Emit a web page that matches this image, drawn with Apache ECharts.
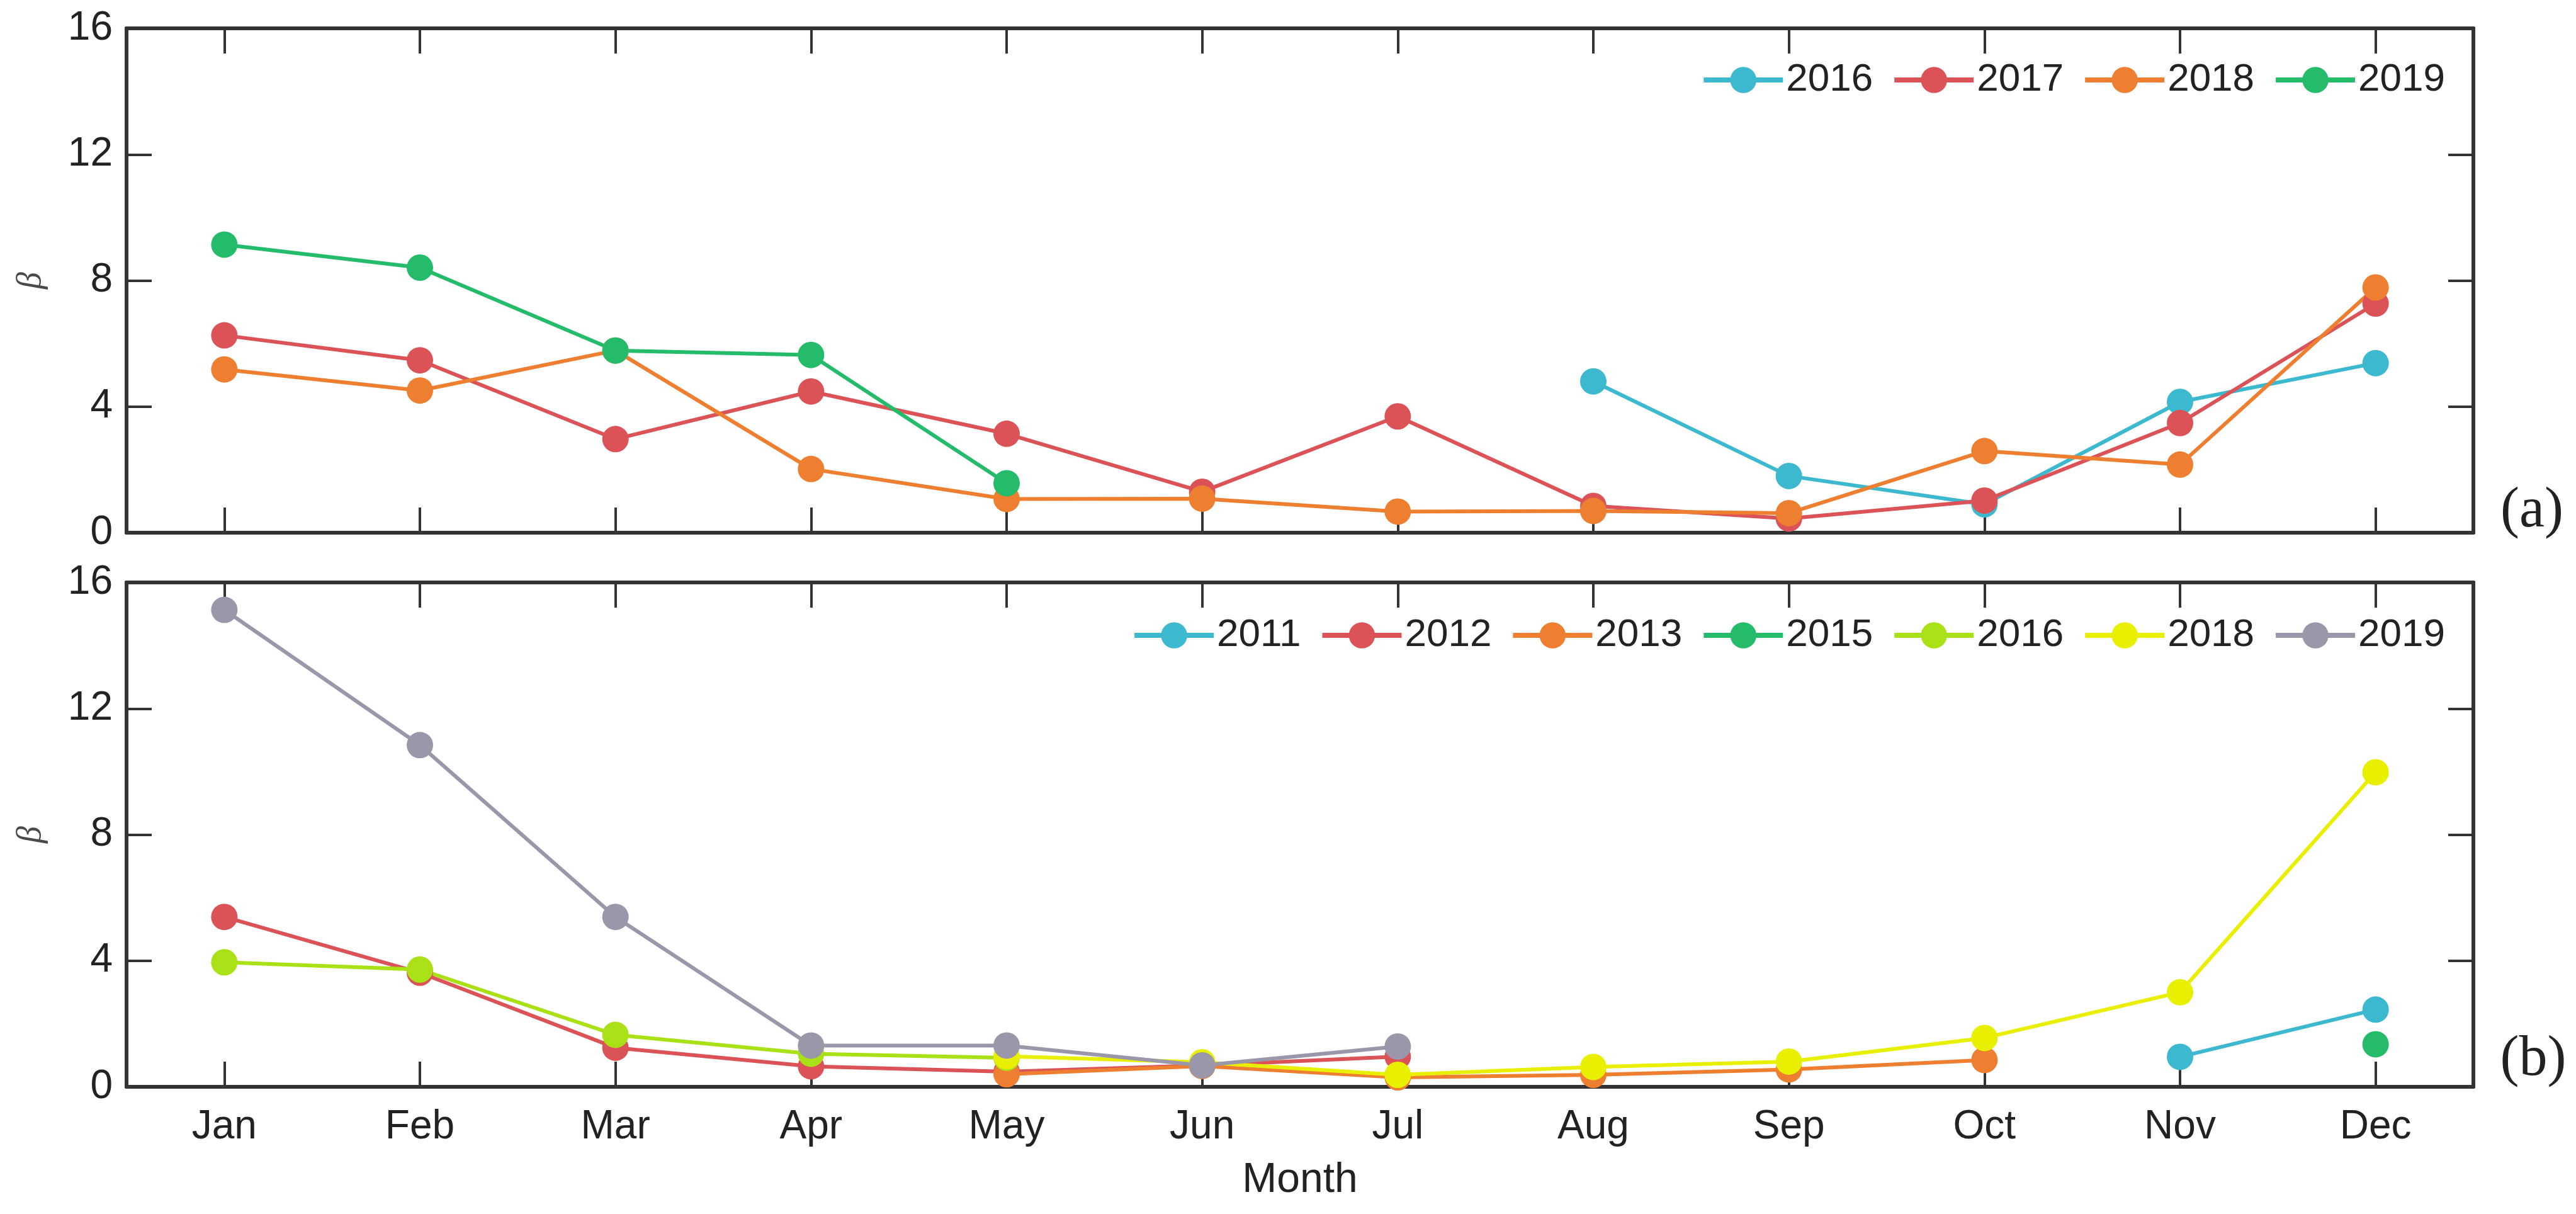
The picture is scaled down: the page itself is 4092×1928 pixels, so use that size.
<!DOCTYPE html>
<html>
<head>
<meta charset="utf-8">
<script src="https://cdn.jsdelivr.net/npm/echarts@6/dist/echarts.min.js"></script>
<style>
html,body{margin:0;padding:0;background:#fff;}
#chart{width:4092px;height:1928px;}
</style>
</head>
<body>
<div id="chart"></div>
<script>
// ---- data ----
const months = ['Jan','Feb','Mar','Apr','May','Jun','Jul','Aug','Sep','Oct','Nov','Dec'];
const yTicks = [0, 4, 8, 12, 16];

// panel (a)
const a2016 = [null, null, null, null, null, null, null, 4.80, 1.80, 0.90, 4.15, 5.38];
const a2017 = [6.26, 5.47, 2.97, 4.48, 3.14, 1.30, 3.69, 0.85, 0.45, 1.02, 3.48, 7.27];
const a2018 = [5.18, 4.51, 5.78, 2.02, 1.07, 1.08, 0.67, 0.69, 0.62, 2.59, 2.16, 7.78];
const a2019 = [9.14, 8.41, 5.78, 5.64, 1.57, null, null, null, null, null, null, null];

// panel (b)
const b2011 = [null, null, null, null, null, null, null, null, null, null, 0.95, 2.45];
const b2012 = [5.39, 3.62, 1.24, 0.65, 0.48, 0.68, 0.96, null, null, null, null, null];
const b2013 = [null, null, null, null, 0.40, 0.66, 0.30, 0.38, 0.55, 0.85, null, null];
const b2015 = [null, null, null, null, null, null, null, null, null, null, null, 1.35];
const b2016 = [3.95, 3.72, 1.65, 1.05, 0.92, null, null, null, null, null, null, null];
const b2018 = [null, null, null, null, 0.97, 0.78, 0.38, 0.63, 0.80, 1.55, 3.00, 9.98];
const b2019 = [15.13, 10.84, 5.39, 1.31, 1.31, 0.68, 1.28, null, null, null, null, null];

const C = {
  cyan: '#3cb9cf', red: '#db5356', orange: '#ee7f31', green: '#24bc6a',
  lime: '#a9e116', yellow: '#e8f000', gray: '#9a97ab'
};

const topSeries = [
  ['a:2016', a2016, C.cyan], ['a:2017', a2017, C.red],
  ['a:2018', a2018, C.orange], ['a:2019', a2019, C.green]
];
const botSeries = [
  ['b:2011', b2011, C.cyan], ['b:2012', b2012, C.red], ['b:2013', b2013, C.orange],
  ['b:2015', b2015, C.green], ['b:2016', b2016, C.lime], ['b:2018', b2018, C.yellow],
  ['b:2019', b2019, C.gray]
];

// ---- styles ----
const FONT = 'Liberation Sans';
const AXIS_COLOR = '#333';
const grids = [
  {left: 201, right: 163, top: 45, height: 801},
  {left: 201, right: 163, top: 925, height: 801}
];

function xAx(gridIndex, position, showLabels) {
  const ax = {
    type: 'category', gridIndex, position, data: months, boundaryGap: true,
    axisLine: {show: true, onZero: false, lineStyle: {color: AXIS_COLOR, width: 6}},
    axisTick: {show: true, inside: true, alignWithLabel: true, length: 40,
               lineStyle: {color: AXIS_COLOR, width: 4}},
    axisLabel: {show: showLabels, fontSize: 64, fontFamily: FONT, color: '#222', margin: 32},
    splitLine: {show: false}
  };
  if (showLabels) {
    ax.name = 'Month';
    ax.nameLocation = 'middle';
    ax.nameGap = 116;
    ax.nameTextStyle = {fontSize: 66, fontFamily: FONT, color: '#222'};
  }
  return ax;
}
function yAx(gridIndex, position, showLabels) {
  const ax = {
    type: 'value', gridIndex, position, min: yTicks[0], max: yTicks[yTicks.length - 1],
    interval: yTicks[1] - yTicks[0],
    axisLine: {show: true, onZero: false, lineStyle: {color: AXIS_COLOR, width: 6}},
    axisTick: {show: true, inside: true, length: 40, lineStyle: {color: AXIS_COLOR, width: 4}},
    axisLabel: {show: showLabels, fontSize: 64, fontFamily: FONT, color: '#222', margin: 22},
    splitLine: {show: false}
  };
  if (showLabels) {
    ax.name = '\u03B2';
    ax.nameLocation = 'middle';
    ax.nameGap = 124;
    ax.nameTextStyle = {fontSize: 54, fontStyle: 'italic', fontFamily: 'Liberation Serif', color: '#4a4a4a'};
  }
  return ax;
}

function mkSeries(list, axisIdx) {
  return list.map(([name, data, color]) => ({
    name, type: 'line', data,
    xAxisIndex: axisIdx, yAxisIndex: axisIdx,
    symbol: 'circle', symbolSize: 42, showSymbol: true, showAllSymbol: true,
    connectNulls: false,
    lineStyle: {color, width: 6},
    itemStyle: {color},
    emphasis: {disabled: true},
    animation: false
  }));
}

function mkLegend(list, top) {
  return {
    data: list.map(s => s[0]),
    right: 208, top, padding: 0, orient: 'horizontal',
    itemWidth: 126, itemHeight: 52, itemGap: 30,
    formatter: n => n.slice(2),
    textStyle: {fontSize: 62, fontFamily: FONT, color: '#222'},
    lineStyle: {width: 8},
    selectedMode: false
  };
}

const option = {
  backgroundColor: '#fff',
  animation: false,
  grid: grids,
  xAxis: [xAx(0, 'bottom', false), xAx(0, 'top', false), xAx(1, 'bottom', true), xAx(1, 'top', false)],
  yAxis: [yAx(0, 'left', true), yAx(0, 'right', false), yAx(1, 'left', true), yAx(1, 'right', false)],
  legend: [mkLegend(topSeries, 96), mkLegend(botSeries, 978)],
  series: [...mkSeries(topSeries, 0), ...mkSeries(botSeries, 2)],
  graphic: [
    {type: 'text', x: 4022, y: 812, style: {text: '(a)', fontSize: 90, fontFamily: 'Liberation Serif', fill: '#222', align: 'center', verticalAlign: 'middle'}},
    {type: 'text', x: 4024, y: 1683, style: {text: '(b)', fontSize: 90, fontFamily: 'Liberation Serif', fill: '#222', align: 'center', verticalAlign: 'middle'}}
  ]
};

const chart = echarts.init(document.getElementById('chart'), null, {renderer: 'canvas'});
chart.setOption(option);
</script>
</body>
</html>
